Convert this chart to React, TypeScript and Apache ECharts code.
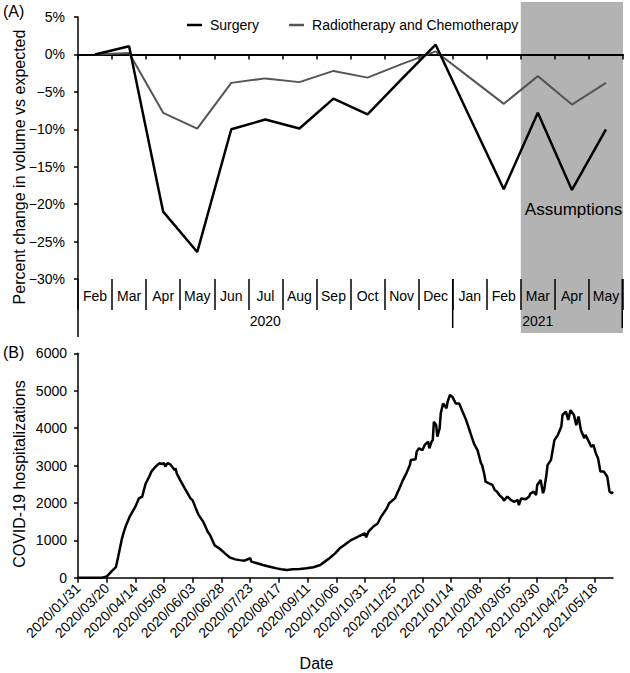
import React, { useEffect, useRef } from 'react';
import * as echarts from 'echarts';

// ---------- Panel A data ----------
const months = ['Feb', 'Mar', 'Apr', 'May', 'Jun', 'Jul', 'Aug', 'Sep', 'Oct', 'Nov', 'Dec', 'Jan', 'Feb', 'Mar', 'Apr', 'May'];
const surgery = [0, 1.1, -21.0, -26.4, -10.0, -8.7, -9.9, -5.9, -8.0, -3.3, 1.3, -8.4, -18.0, -7.8, -18.1, -10.0];
const radioChemo = [0, 0.2, -7.8, -9.9, -3.8, -3.2, -3.7, -2.2, -3.1, -1.3, 0.4, -3.1, -6.6, -2.9, -6.7, -3.8];
const years = ['2020', '2021'];

// ---------- Panel B data ----------
const dateTicks = [
  '2020/01/31', '2020/03/20', '2020/04/14', '2020/05/09', '2020/06/03', '2020/06/28', '2020/07/23',
  '2020/08/17', '2020/09/11', '2020/10/06', '2020/10/31', '2020/11/25', '2020/12/20', '2021/01/14',
  '2021/02/08', '2021/03/05', '2021/03/30', '2021/04/23', '2021/05/18',
];
const dayCount = 467;
const hospDay = [
  0, 21, 25, 29, 33, 35, 38, 40, 42, 45, 50, 53, 56, 57, 59, 62, 64, 67, 69, 71, 73, 75, 76, 78, 80, 82, 84, 85, 86, 89,
  93, 98, 100, 102, 105, 109, 113, 115, 119, 124, 128, 132, 137, 141, 145, 150, 151, 156, 161, 167, 173, 177, 182, 187,
  193, 199, 205, 211, 215, 219, 224, 228, 232, 237, 241, 245, 250, 251, 253, 257, 261, 264, 269, 271, 276, 280, 283,
  286, 289, 290, 294, 295, 297, 300, 302, 305, 306, 308, 309, 310, 312, 313, 315, 316, 318, 321, 322, 324, 326, 329,
  332, 335, 338, 342, 345, 348, 351, 352, 354, 355, 358, 361, 363, 365, 367, 370, 371, 374, 377, 380, 383, 384, 386,
  390, 393, 394, 397, 399, 400, 403, 405, 406, 408, 409, 412, 415, 418, 421, 422, 425, 427, 429, 432, 434, 436, 438,
  441, 442, 445, 447, 449, 451, 453, 455, 458, 461, 463, 465, 466,
];
const hospCount = [
  0, 0, 30, 160, 280, 560, 1010, 1230, 1410, 1630, 1900, 2120, 2170, 2300, 2520, 2700, 2840, 2950, 3010, 3060, 3040,
  3060, 2970, 3060, 3040, 2970, 2880, 2920, 2790, 2610, 2390, 2120, 2060, 1900, 1680, 1500, 1230, 1140, 870, 760, 650,
  545, 490, 470, 455, 520, 430, 385, 340, 295, 250, 225, 205, 225, 235, 250, 280, 340, 430, 520, 650, 785, 875, 990,
  1050, 1115, 1185, 1080, 1230, 1360, 1450, 1630, 1855, 1990, 2120, 2390, 2610, 2790, 3010, 3150, 3165, 3370, 3460,
  3410, 3550, 3640, 3460, 3640, 3680, 4170, 4080, 3770, 3990, 4400, 4660, 4530, 4710, 4885, 4840, 4660, 4660, 4440,
  4220, 3850, 3580, 3410, 3060, 3010, 2750, 2570, 2520, 2480, 2345, 2300, 2210, 2120, 2060, 2170, 2080, 2030, 2080,
  1940, 2120, 2100, 2170, 2250, 2300, 2210, 2480, 2610, 2260, 2345, 2750, 3010, 3150, 3680, 3820, 4040, 4350, 4440,
  4220, 4480, 4350, 4080, 4310, 3950, 3730, 3820, 3640, 3500, 3550, 3330, 3190, 2840, 2840, 2700, 2300, 2260, 2300,
];

const FONT = '"Liberation Sans", Arial, Helvetica, sans-serif';

// layout constants
const A_LEFT = 78;
const A_TOP = 17;
const A_W = 545;
const A_H = 262;
const B_LEFT = 78;
const B_TOP = 353.3;
const B_W = 535;
const B_H = 224.4;

function txt(text: string, x: number, y: number, size: number, rot = 0, align = 'center') {
  return {
    type: 'text',
    x,
    y,
    rotation: rot,
    z: 20,
    style: {
      text,
      font: `${size}px ${FONT}`,
      fill: '#000',
      align,
      verticalAlign: 'middle',
      textAlign: align,
      textVerticalAlign: 'middle',
    },
  };
}

function vline(x: number, y1: number, y2: number) {
  return {
    type: 'line',
    z: 20,
    shape: { x1: x, y1, x2: x, y2 },
    style: { stroke: '#000', lineWidth: 1.5 },
  };
}

export default function App() {
  const ref = useRef<HTMLDivElement>(null);

  useEffect(() => {
    if (!ref.current) return;
    const chart = echarts.init(ref.current, undefined, { renderer: 'svg' });

    const bw = A_W / months.length;
    const decEnd = A_LEFT + 11 * bw;
    const shadeStart = A_LEFT + 13 * bw;
    const aBottom = A_TOP + A_H;

    const dateCats = Array.from({ length: dayCount }, (_, i) =>
      i % 25 === 0 && dateTicks[i / 25] ? dateTicks[i / 25] : ''
    );

    const option: any = {
      animation: false,
      textStyle: { fontFamily: FONT },
      grid: [
        { left: A_LEFT, top: A_TOP, width: A_W, height: A_H, containLabel: false },
        { left: B_LEFT, top: B_TOP, width: B_W, height: B_H, containLabel: false },
      ],
      legend: {
        left: 182,
        top: 13,
        icon: 'rect',
        itemWidth: 15,
        itemHeight: 2.5,
        itemGap: 30,
        textStyle: { fontSize: 14, color: '#000', fontFamily: FONT, padding: [0, 0, 0, 3] },
        data: ['Surgery', 'Radiotherapy and Chemotherapy'],
      },
      xAxis: [
        {
          gridIndex: 0,
          type: 'category',
          data: months,
          boundaryGap: true,
          position: 'bottom',
          axisLine: { onZero: true, lineStyle: { color: '#000', width: 2 } },
          axisTick: { show: true, interval: 0, length: 5, lineStyle: { color: '#000', width: 1.5 } },
          axisLabel: { show: false },
          splitLine: { show: false },
        },
        {
          gridIndex: 0,
          type: 'category',
          data: months,
          boundaryGap: true,
          position: 'bottom',
          axisLine: { show: false, onZero: false },
          axisTick: { show: true, interval: 0, length: 31, lineStyle: { color: '#000', width: 1.5 } },
          axisLabel: { interval: 0, fontSize: 14, color: '#000', margin: 10, fontFamily: FONT },
          splitLine: { show: false },
        },
        {
          gridIndex: 1,
          type: 'category',
          data: dateCats,
          boundaryGap: false,
          axisLine: { lineStyle: { color: '#000', width: 1.5 } },
          axisTick: { show: true, interval: 24, length: 5, lineStyle: { color: '#000', width: 1.5 } },
          axisLabel: { interval: 24, rotate: 45, fontSize: 14, color: '#000', margin: 8, fontFamily: FONT },
          splitLine: { show: false },
        },
      ],
      yAxis: [
        {
          gridIndex: 0,
          type: 'value',
          min: -30,
          max: 5,
          interval: 5,
          axisLine: { show: true, lineStyle: { color: '#000', width: 1.5 } },
          axisTick: { show: true, length: 4, lineStyle: { color: '#000', width: 1.5 } },
          axisLabel: {
            fontSize: 14,
            color: '#000',
            margin: 13,
            fontFamily: FONT,
            formatter: (v: number) => (v < 0 ? '\u2212' + Math.abs(v) : String(v)) + '%',
          },
          splitLine: { show: false },
        },
        {
          gridIndex: 1,
          type: 'value',
          min: 0,
          max: 6000,
          interval: 1000,
          axisLine: { show: true, lineStyle: { color: '#000', width: 1.5 } },
          axisTick: { show: true, length: 4, lineStyle: { color: '#000', width: 1.5 } },
          axisLabel: {
            fontSize: 14,
            color: '#000',
            margin: 11,
            fontFamily: FONT,
            formatter: (v: number) => String(v),
          },
          splitLine: { show: false },
        },
      ],
      series: [
        {
          name: 'Surgery',
          type: 'line',
          xAxisIndex: 0,
          yAxisIndex: 0,
          data: surgery,
          symbol: 'none',
          color: '#000',
          lineStyle: { color: '#000', width: 2.5 },
          z: 5,
        },
        {
          name: 'Radiotherapy and Chemotherapy',
          type: 'line',
          xAxisIndex: 0,
          yAxisIndex: 0,
          data: radioChemo,
          symbol: 'none',
          color: '#555555',
          lineStyle: { color: '#555555', width: 2 },
          z: 4,
        },
        {
          name: 'COVID-19 hospitalizations',
          type: 'line',
          xAxisIndex: 2,
          yAxisIndex: 1,
          data: hospDay.map((d, i) => [d, hospCount[i]]),
          symbol: 'none',
          color: '#000',
          lineStyle: { color: '#000', width: 2.5 },
          z: 5,
        },
      ],
      graphic: [
        {
          type: 'rect',
          z: -1,
          shape: { x: shadeStart, y: 2, width: A_LEFT + A_W - shadeStart, height: 331 },
          style: { fill: '#b3b3b3' },
        },
        txt('(A)', 3, 11, 16, 0, 'left'),
        txt('(B)', 3, 352, 16, 0, 'left'),
        txt('Percent change in volume vs expected', 19, 167, 16, Math.PI / 2),
        txt('COVID-19 hospitalizations', 19, 474, 16, Math.PI / 2),
        txt('Date', 316.5, 663.5, 16),
        txt('Assumptions', 573.5, 209.5, 17),
        txt(years[0], (A_LEFT + decEnd) / 2, 321, 14),
        txt(years[1], (decEnd + A_LEFT + A_W) / 2, 321, 14),
        vline(A_LEFT, aBottom, 337),
        vline(decEnd, aBottom, 328),
        vline(A_LEFT + A_W - 0.75, aBottom, 328),
      ],
    };

    chart.setOption(option);
    return () => chart.dispose();
  }, []);

  return (
    <div
      ref={ref}
      style={{ position: 'absolute', left: 0, top: 0, width: 630, height: 673, background: '#fff' }}
    />
  );
}
